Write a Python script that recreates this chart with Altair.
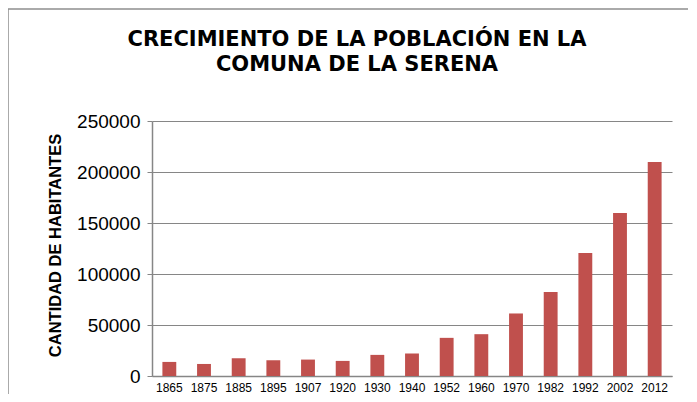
import altair as alt
import pandas as pd

years = ["1865", "1875", "1885", "1895", "1907", "1920", "1930", "1940",
         "1952", "1960", "1970", "1982", "1992", "2002", "2012"]
habitantes = [13800, 11800, 17400, 15500, 16100, 14800, 20700, 22000,
              37400, 41000, 61300, 82400, 120500, 159900, 209800]
y_ticks = [0, 50000, 100000, 150000, 200000, 250000]
title_lines = ["CRECIMIENTO DE LA POBLACIÓN EN LA", "COMUNA DE LA SERENA"]
y_title = "CANTIDAD DE HABITANTES"

df = pd.DataFrame({"year": years, "hab": habitantes})
grey = "#868686"

bars = alt.Chart(df).mark_bar(color="#C0504D").encode(
    x=alt.X("year:N", sort=years, title=None,
            scale=alt.Scale(paddingInner=0.6, paddingOuter=0.3),
            axis=alt.Axis(labelAngle=0, labelFont="Liberation Sans", labelFontSize=12,
                          labelColor="#000000", ticks=False, domainColor=grey,
                          domainWidth=1.5, labelPadding=6, grid=False)),
    y=alt.Y("hab:Q", title=y_title, scale=alt.Scale(domain=[0, 250000], nice=False),
            axis=alt.Axis(values=y_ticks, format="d", labelFont="Liberation Sans",
                          labelFontSize=19, labelColor="#000000", tickSize=5,
                          tickColor=grey, domainColor=grey, domainWidth=1.5,
                          gridColor=grey, gridWidth=1.2, labelPadding=7,
                          titleFont="Liberation Sans", titleFontWeight="bold",
                          titleFontSize=16.5, titleColor="#000000",
                          titleX=-97, titleY=124, titleAngle=-90,
                          titleAlign="center", titleBaseline="middle")),
)

frame_src = pd.DataFrame({"a": [0]})
frame_top = alt.Chart(frame_src).mark_rule(color="#8e8e8e", strokeWidth=1.5).encode(
    x=alt.value(-144), x2=alt.value(560), y=alt.value(-112))
frame_left = alt.Chart(frame_src).mark_rule(color="#8e8e8e", strokeWidth=1.5).encode(
    x=alt.value(-144), y=alt.value(-112), y2=alt.value(300))

chart = alt.layer(bars, frame_top, frame_left).properties(
    width=520, height=255,
    autosize=alt.AutoSizeParams(type="none"),
    padding={"left": 144, "top": 113, "right": 16, "bottom": 18},
    title=alt.TitleParams(title_lines, font="DejaVu Sans", fontSize=21,
                          fontWeight="bold", color="#000000", anchor="middle",
                          frame="group", dx=-55, dy=67, offset=0, lineHeight=25),
).configure_view(strokeWidth=0)

chart.save("out.html", embed_options={"renderer": "svg", "actions": False})
